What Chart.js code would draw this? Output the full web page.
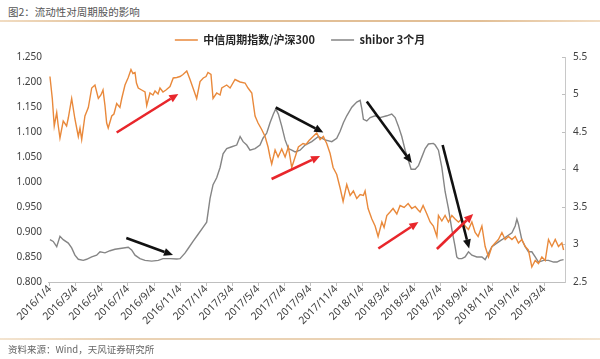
<!DOCTYPE html>
<html>
<head>
<meta charset="utf-8">
<script src="https://cdn.jsdelivr.net/npm/chart.js@4.4.1/dist/chart.umd.min.js"></script>
<style>
  html, body { margin:0; padding:0; background:#fff; }
  #wrap { position:relative; width:600px; height:359px; overflow:hidden; background:#fff; }
  #title { position:absolute; left:8px; top:4px; font:10.5px "Noto Sans CJK SC", sans-serif; color:#555; white-space:nowrap; }
  #tline { position:absolute; left:0; top:20px; width:600px; height:1.5px; background:linear-gradient(to right, #f1dcc2, #e2bf96 20%, #e2bf96 80%, #f1dcc2); }
  #fline { position:absolute; left:0; top:338px; width:600px; height:1.5px; background:linear-gradient(to right, #f3e4d0, #ead2b4 20%, #ead2b4 80%, #f3e4d0); }
  #foot { position:absolute; left:8px; top:342px; font:9.5px "Noto Sans CJK SC", sans-serif; color:#666; white-space:nowrap; }
  canvas { position:absolute; left:0; top:0; }
</style>
</head>
<body>
<div id="wrap">
  <div id="title">图2：流动性对周期股的影响</div>
  <div id="tline"></div>
  <canvas id="c" width="600" height="359"></canvas>
  <div id="fline"></div>
  <div id="foot">资料来源：Wind，天风证券研究所</div>
</div>
<script>
// ---- data (x = months since 2016/1/4) ----
const SERIES_NAMES = ['中信周期指数/沪深300', 'shibor 3个月'];
const TICK_MONTHS = [0,2,4,6,8,10,12,14,16,18,20,22,24,26,28,30,32,34,36,38];
const TICK_LABELS = ['2016/1/4','2016/3/4','2016/5/4','2016/7/4','2016/9/4','2016/11/4',
  '2017/1/4','2017/3/4','2017/5/4','2017/7/4','2017/9/4','2017/11/4',
  '2018/1/4','2018/3/4','2018/5/4','2018/7/4','2018/9/4','2018/11/4','2019/1/4','2019/3/4'];

const CYCLE_M = [0,0.18,0.33,0.52,0.62,0.77,1.02,1.28,1.41,1.67,1.92,2.18,2.31,2.44,2.69,2.95,3.21,3.46,3.72,3.92,
  4.08,4.23,4.36,4.48,4.75,4.92,5.13,5.38,5.52,5.77,6.02,6.23,6.38,6.54,6.65,6.79,7.05,7.31,7.44,7.69,
  7.92,8.08,8.31,8.46,8.69,8.92,9.23,9.48,9.75,10,10.23,10.52,10.77,11,11.28,11.54,11.79,12,12.15,12.38,
  12.54,12.82,13.08,13.21,13.59,13.85,14.23,14.62,15,15.23,15.52,15.77,16,16.28,16.54,16.77,16.92,17.05,17.31,17.54,
  17.82,18.08,18.33,18.59,18.85,19.1,19.46,19.69,19.92,20.23,20.51,20.77,21.02,21.28,21.54,21.77,22.05,22.31,22.54,22.82,
  23.08,23.33,23.59,23.85,24.1,24.23,24.46,24.75,25,25.23,25.52,25.69,25.9,26.15,26.38,26.67,26.92,27.23,27.54,27.82,
  28.08,28.31,28.46,28.69,28.98,29.23,29.48,29.75,29.87,30.13,30.38,30.64,30.9,31.15,31.41,31.67,31.92,32.18,32.44,32.69,
  32.92,33.21,33.46,33.72,33.98,34.23,34.48,34.75,35,35.25,35.52,35.77,36.02,36.28,36.54,36.79,37.05,37.31,37.56,37.82,
  38.08,38.33,38.59,38.85,39.1,39.36,39.49];
const CYCLE_V = [1.211,1.167,1.112,1.139,1.116,1.088,1.122,1.112,1.128,1.167,1.126,1.091,1.108,1.085,1.132,1.149,1.188,1.194,1.167,1.174,
  1.184,1.153,1.118,1.108,1.132,1.136,1.157,1.149,1.167,1.194,1.209,1.225,1.217,1.219,1.198,1.188,1.184,1.180,1.153,1.178,
  1.174,1.182,1.176,1.188,1.180,1.184,1.191,1.208,1.209,1.211,1.215,1.222,1.205,1.188,1.167,1.201,1.208,1.211,1.219,1.215,
  1.167,1.178,1.174,1.188,1.194,1.188,1.205,1.200,1.198,1.188,1.178,1.132,1.118,1.105,1.091,1.070,1.050,1.036,1.064,1.050,
  1.066,1.050,1.070,1.029,1.050,1.070,1.077,1.075,1.083,1.091,1.098,1.085,1.091,1.077,1.057,1.029,1.015,0.988,0.961,0.995,
  0.973,0.982,0.967,0.975,0.973,0.982,0.947,0.926,0.912,0.891,0.920,0.909,0.933,0.940,0.947,0.936,0.953,0.949,0.957,0.947,
  0.951,0.944,0.940,0.953,0.936,0.920,0.912,0.891,0.933,0.922,0.933,0.920,0.933,0.926,0.920,0.926,0.912,0.905,0.920,0.899,
  0.891,0.912,0.871,0.850,0.871,0.878,0.885,0.899,0.885,0.891,0.885,0.891,0.878,0.885,0.871,0.864,0.830,0.843,0.837,0.850,
  0.843,0.885,0.871,0.885,0.871,0.878,0.864];

const SHIBOR_M = [0,0.25,0.52,0.77,1.02,1.41,1.67,1.92,2.18,2.56,2.82,3.21,3.59,3.85,4.23,4.62,5,5.52,6.02,6.28,
  6.54,6.92,7.31,7.82,8.33,8.69,9.23,9.75,10,10.38,10.64,11,11.38,11.77,12.05,12.31,12.54,12.82,13.08,13.31,
  13.59,13.98,14.36,14.62,14.85,15.13,15.38,15.77,16.15,16.38,16.67,16.92,17.18,17.36,17.56,17.82,18.08,18.33,18.59,18.85,
  19.23,19.62,20.13,20.64,21.15,21.67,22.05,22.31,22.56,22.82,23.21,23.59,23.85,23.98,24.1,24.36,24.62,25,25.38,25.9,
  26.28,26.54,26.79,27.05,27.31,27.56,27.77,28.08,28.33,28.59,28.85,29.1,29.48,29.62,29.87,30.13,30.38,30.64,30.9,31.15,
  31.28,31.41,31.67,31.92,32.18,32.44,32.82,33.21,33.46,33.72,33.98,34.36,34.75,35.13,35.52,35.77,35.9,36.02,36.28,36.54,
  36.79,37.05,37.31,37.56,37.95,38.33,38.72,38.98,39.23,39.49];
const SHIBOR_V = [3.064,3.041,2.972,3.110,3.064,3.019,2.954,2.858,2.803,2.789,2.803,2.834,2.858,2.903,2.889,2.917,2.936,2.950,2.964,2.927,
  2.858,2.812,2.789,2.779,2.789,2.812,2.812,2.807,2.812,2.885,2.950,3.041,3.133,3.229,3.298,3.615,3.798,3.890,4.027,4.210,
  4.279,4.303,4.326,4.440,4.371,4.326,4.257,4.279,4.326,4.417,4.486,4.623,4.739,4.808,4.739,4.578,4.395,4.279,4.257,4.234,
  4.257,4.326,4.371,4.440,4.395,4.371,4.417,4.509,4.623,4.716,4.830,4.899,4.922,4.808,4.670,4.647,4.692,4.716,4.692,4.716,
  4.739,4.692,4.578,4.440,4.257,4.120,4.004,4.004,4.051,4.165,4.279,4.340,4.348,4.326,4.257,4.027,3.707,3.477,3.202,2.972,
  2.834,2.812,2.812,2.834,2.903,2.858,2.834,2.834,2.799,2.881,2.972,3.019,3.064,3.110,3.156,3.247,3.339,3.271,3.064,2.972,
  2.903,2.903,2.834,2.766,2.789,2.789,2.766,2.766,2.789,2.799];

// annotation arrows: [x0, y0(left axis), x1, y1(left axis)]
const ARROWS_RED = [[5.13,1.099,9.87,1.176],[17.04,1.006,20.77,1.052],[25.25,0.867,28.33,0.920],[29.75,0.866,32.54,0.936]];
const ARROWS_BLACK = [[5.87,0.888,9.46,0.854],[17.36,1.149,21.02,1.099],[24.36,1.161,27.82,1.038],[30.19,1.074,32.23,0.867]];

const pts = (xs, ys) => xs.map((x, i) => ({x, y: ys[i]}));

const legendGap = {
  id: 'legendGap',
  beforeUpdate(chart) {
    const lg = chart.legend;
    if (lg && !lg._patched) {
      const f = lg.fit;
      lg.fit = function () { f.call(this); this.height = 38.5; };
      lg._patched = true;
    }
  }
};

function drawArrow(ctx, x0, y0, x1, y1, color) {
  const ang = Math.atan2(y1 - y0, x1 - x0);
  const hl = 9, hw = 4;
  const bx = x1 - hl * Math.cos(ang), by = y1 - hl * Math.sin(ang);
  ctx.save();
  ctx.strokeStyle = color; ctx.fillStyle = color; ctx.lineWidth = 2.6; ctx.lineCap = 'butt';
  ctx.beginPath(); ctx.moveTo(x0, y0); ctx.lineTo(bx, by); ctx.stroke();
  ctx.beginPath();
  ctx.moveTo(x1, y1);
  ctx.lineTo(bx + hw * Math.sin(ang), by - hw * Math.cos(ang));
  ctx.lineTo(bx - hw * Math.sin(ang), by + hw * Math.cos(ang));
  ctx.closePath(); ctx.fill();
  ctx.restore();
}

const arrowPlugin = {
  id: 'arrows',
  afterDatasetsDraw(chart) {
    const {ctx, scales: {x, y}} = chart;
    const draw = (list, color) => list.forEach(a => drawArrow(ctx,
      x.getPixelForValue(a[0]), y.getPixelForValue(a[1]),
      x.getPixelForValue(a[2]), y.getPixelForValue(a[3]), color));
    draw(ARROWS_BLACK, '#111111');
    draw(ARROWS_RED, '#e8262b');
  }
};

const tickFont = { family: '"Noto Sans", "Liberation Sans", sans-serif', size: 10 };

new Chart(document.getElementById('c'), {
  type: 'line',
  data: {
    datasets: [
      { label: SERIES_NAMES[0], data: pts(CYCLE_M, CYCLE_V), yAxisID: 'y',
        borderColor: '#e9893b', backgroundColor: '#e9893b', borderWidth: 1.4, pointRadius: 0, tension: 0 },
      { label: SERIES_NAMES[1], data: pts(SHIBOR_M, SHIBOR_V), yAxisID: 'y1',
        borderColor: '#858585', backgroundColor: '#858585', borderWidth: 1.4, pointRadius: 0, tension: 0 }
    ]
  },
  options: {
    responsive: false,
    animation: false,
    devicePixelRatio: 1,
    layout: { padding: { top: 18.5, left: 0, right: 0, bottom: 0 } },
    plugins: {
      tooltip: { enabled: false },
      legend: {
        position: 'top',
        labels: {
          usePointStyle: true, pointStyle: 'line', pointStyleWidth: 23, padding: 16,
          color: '#262626',
          font: { family: '"Noto Sans CJK SC", sans-serif', size: 11, weight: 'bold' }
        }
      }
    },
    scales: {
      x: {
        type: 'linear', min: -0.15, max: 39.6,
        afterBuildTicks(scale) { scale.ticks = TICK_MONTHS.map(v => ({ value: v })); },
        afterFit(scale) { scale.height = 77; },
        grid: { display: true, drawOnChartArea: false, drawTicks: true, tickLength: 4, color: '#bfbfbf' },
        border: { display: true, color: '#bfbfbf', width: 1 },
        ticks: {
          autoSkip: false, minRotation: 45, maxRotation: 45, padding: -3,
          color: '#404040', font: { family: '"Noto Sans", "Liberation Sans", sans-serif', size: 10.5 },
          callback: (v, i) => TICK_LABELS[i]
        }
      },
      y: {
        position: 'left', min: 0.8, max: 1.25,
        afterFit(scale) { scale.width = 48; },
        grid: { display: false, drawTicks: false },
        border: { display: false },
        ticks: { stepSize: 0.05, padding: 6, color: '#404040', font: tickFont,
          callback: v => Number(v).toFixed(3) }
      },
      y1: {
        position: 'right', min: 2.5, max: 5.5,
        afterFit(scale) { scale.width = 35; },
        grid: { display: true, drawOnChartArea: false, drawTicks: true, tickLength: -3, color: '#bfbfbf' },
        border: { display: true, color: '#c8c8c8', width: 1 },
        ticks: { stepSize: 0.5, padding: 11, color: '#404040', font: tickFont,
          callback: v => String(Math.round(v * 10) / 10) }
      }
    }
  },
  plugins: [legendGap, arrowPlugin]
});
</script>
</body>
</html>
